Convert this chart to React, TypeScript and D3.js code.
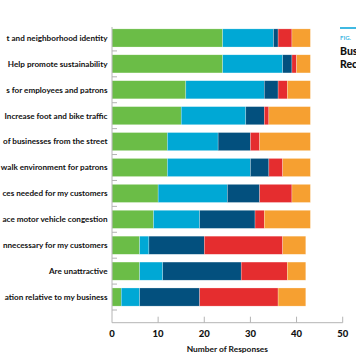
import React from "react";
import * as d3 from "d3";

// Category labels as visible in the (cropped) reference
const categories = [
  "t and neighborhood identity",
  "Help promote sustainability",
  "s for employees and patrons",
  "Increase foot and bike traffic",
  "of businesses from the street",
  "walk environment for patrons",
  "ces needed for my customers",
  "ace motor vehicle congestion",
  "nnecessary for my customers",
  "Are unattractive",
  "ation relative to my business",
];
const seriesNames = ["Strongly agree", "Agree", "Neutral", "Disagree", "No opinion"];
const strongAgree = [24, 24, 16, 15, 12, 12, 10, 9, 6, 6, 2];
const agree = [11, 13, 17, 14, 11, 18, 15, 10, 2, 5, 4];
const neutral = [1, 2, 3, 4, 7, 4, 7, 12, 12, 17, 13];
const disagree = [3, 1, 2, 1, 2, 3, 7, 2, 17, 10, 17];
const noOpinion = [4, 3, 5, 9, 11, 6, 4, 10, 5, 4, 6];
const xTicks = [0, 10, 20, 30, 40, 50];
const colors = ["#6bbd47", "#00a8d5", "#03507e", "#e52d2f", "#f6a031"];

export default function App() {
  const W = 356, H = 364;
  const x0 = 112, x1 = 342.7;
  const yTop = 25, yBot = 310, axisY = 322.7;
  const x = d3.scaleLinear().domain([0, 50]).range([x0, x1]);
  const y = d3.scaleBand<string>().domain(categories).range([yTop, yBot]).paddingInner(0.3).paddingOuter(0.15);
  const rows = categories.map((c, i) => ({
    cat: c,
    [seriesNames[0]]: strongAgree[i],
    [seriesNames[1]]: agree[i],
    [seriesNames[2]]: neutral[i],
    [seriesNames[3]]: disagree[i],
    [seriesNames[4]]: noOpinion[i],
  }));
  const stacked = d3.stack<any>().keys(seriesNames)(rows);
  const step = y.step();
  const grey = "#b4b4b4";
  const font = "Lato, 'Open Sans', sans-serif";
  return (
    <svg width={W} height={H} style={{ position: "absolute", left: 0, top: 0, background: "#fff" }}>
      {stacked.map((s, si) => (
        <g key={si} fill={colors[si]}>
          {s.map((d, i) => (
            <rect key={i} x={x(d[0])} y={y(categories[i])} width={x(d[1]) - x(d[0])} height={y.bandwidth()}
              stroke="#ffffff" strokeOpacity={0.5} strokeWidth={0.5} />
          ))}
        </g>
      ))}
      {/* left axis */}
      <line x1={x0} x2={x0} y1={yTop + 2} y2={axisY} stroke={grey} strokeWidth={1} />
      {categories.map((c, i) => (
        <line key={i} x1={x0} x2={x0 + 5} y1={yTop + step * (i + 1)} y2={yTop + step * (i + 1)} stroke={grey} strokeWidth={1} />
      ))}
      {categories.map((c, i) => (
        <text key={i} x={107.5} y={(y(c) as number) + y.bandwidth() / 2} dy="0.35em" textAnchor="end"
          fontFamily={font} fontWeight={700} fontSize={8.15} fill="#111">{c}</text>
      ))}
      {/* bottom axis */}
      <line x1={x0} x2={x1} y1={axisY} y2={axisY} stroke={grey} strokeWidth={1} />
      {xTicks.map((t) => (
        <g key={t}>
          {t > 0 && <line x1={x(t)} x2={x(t)} y1={axisY} y2={axisY - 6} stroke={grey} strokeWidth={1} />}
          <text x={x(t)} y={336.5} textAnchor="middle" fontFamily={font} fontWeight={900} fontSize={9.5} fill="#111">{t}</text>
        </g>
      ))}
      <text x={(x0 + x1) / 2} y={351.5} textAnchor="middle" fontFamily={font} fontWeight={700} fontSize={8.4} fill="#111">Number of Responses</text>
      {/* figure title, cropped at the right edge */}
      <line x1={340} x2={358} y1={28} y2={28} stroke="#2bb1df" strokeWidth={1.8} />
      <text x={340} y={39.5} fontFamily={font} fontSize={6} fontWeight={700} fill="#41b8e3">FIG.</text>
      <text x={340} y={54.5} fontFamily={font} fontSize={10.5} fontWeight={900} fill="#111">Bus</text>
      <text x={340} y={68} fontFamily={font} fontSize={10.5} fontWeight={900} fill="#111">Rec</text>
    </svg>
  );
}
